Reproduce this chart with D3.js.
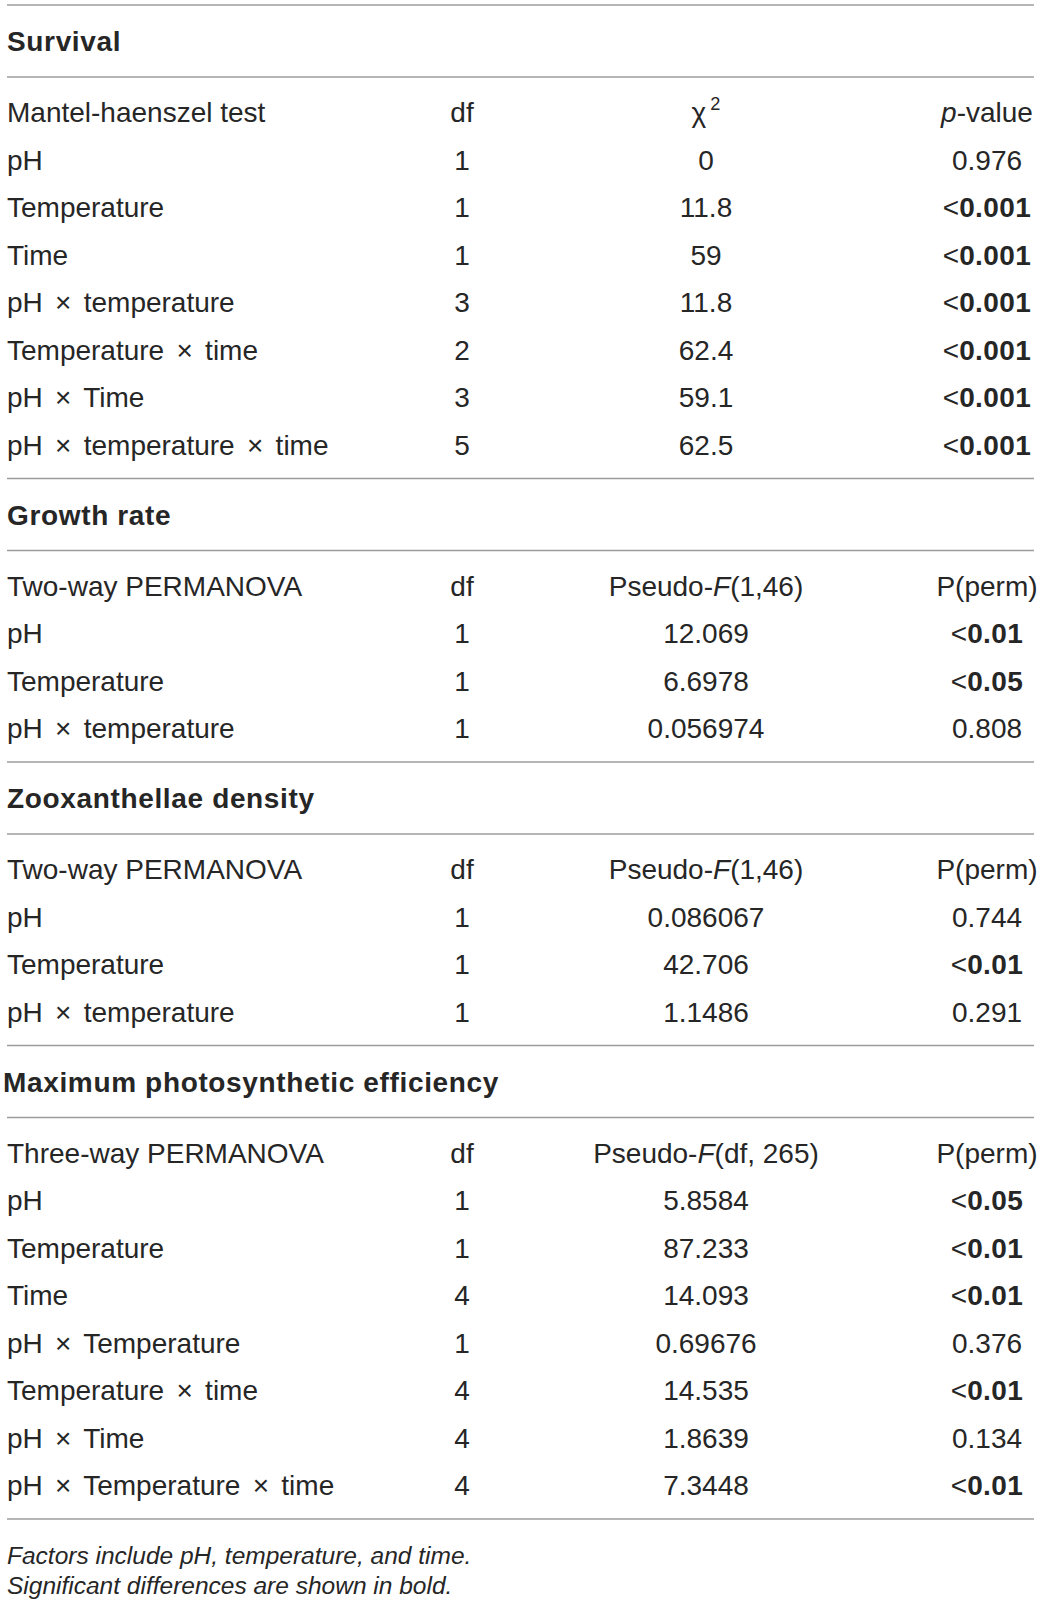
<!DOCTYPE html>
<html>
<head>
<meta charset="utf-8">
<style>
    body { margin: 0; background-color: #FFF; }
    text { font-family: "Liberation Sans", Arial, Helvetica, sans-serif; fill: #262626; }
</style>
</head>
<body>
<div id="chartArea"></div>
<script src="https://cdnjs.cloudflare.com/ajax/libs/d3/7.8.5/d3.min.js"></script>
<script>
    /* -----------------------------------
        data
    ----------------------------------- */
    var sectionTitles = ["Survival", "Growth rate", "Zooxanthellae density", "Maximum photosynthetic efficiency"];

    // header cells: [text, style] segments
    var survivalHeader = [[["Mantel-haenszel test"]], [["df"]], [["χ"], ["2", "sup"]], [["p", "i"], ["-value"]]];
    var survivalLabels = ["pH", "Temperature", "Time", "pH × temperature", "Temperature × time", "pH × Time", "pH × temperature × time"];
    var survivalDf = ["1", "1", "1", "3", "2", "3", "5"];
    var survivalChi = ["0", "11.8", "59", "11.8", "62.4", "59.1", "62.5"];
    var survivalP = ["0.976", "<0.001", "<0.001", "<0.001", "<0.001", "<0.001", "<0.001"];

    var growthHeader = [[["Two-way PERMANOVA"]], [["df"]], [["Pseudo-"], ["F", "i"], ["(1,46)"]], [["P(perm)"]]];
    var growthLabels = ["pH", "Temperature", "pH × temperature"];
    var growthDf = ["1", "1", "1"];
    var growthF = ["12.069", "6.6978", "0.056974"];
    var growthP = ["<0.01", "<0.05", "0.808"];

    var zooxHeader = [[["Two-way PERMANOVA"]], [["df"]], [["Pseudo-"], ["F", "i"], ["(1,46)"]], [["P(perm)"]]];
    var zooxLabels = ["pH", "Temperature", "pH × temperature"];
    var zooxDf = ["1", "1", "1"];
    var zooxF = ["0.086067", "42.706", "1.1486"];
    var zooxP = ["0.744", "<0.01", "0.291"];

    var photoHeader = [[["Three-way PERMANOVA"]], [["df"]], [["Pseudo-"], ["F", "i"], ["(df, 265)"]], [["P(perm)"]]];
    var photoLabels = ["pH", "Temperature", "Time", "pH × Temperature", "Temperature × time", "pH × Time", "pH × Temperature × time"];
    var photoDf = ["1", "1", "4", "1", "4", "4", "4"];
    var photoF = ["5.8584", "87.233", "14.093", "0.69676", "14.535", "1.8639", "7.3448"];
    var photoP = ["<0.05", "<0.01", "<0.01", "0.376", "<0.01", "0.134", "<0.01"];

    var footnotes = ["Factors include pH, temperature, and time.", "Significant differences are shown in bold."];

    var sections = [
        {title: sectionTitles[0], header: survivalHeader, cols: [survivalLabels, survivalDf, survivalChi, survivalP]},
        {title: sectionTitles[1], header: growthHeader, cols: [growthLabels, growthDf, growthF, growthP]},
        {title: sectionTitles[2], header: zooxHeader, cols: [zooxLabels, zooxDf, zooxF, zooxP]},
        {title: sectionTitles[3], header: photoHeader, cols: [photoLabels, photoDf, photoF, photoP]}
    ];

    /* -----------------------------------
        initialize
    ----------------------------------- */
    var width = 1041, height = 1607;
    var fontSize = 28, rowStep = 47.5;

    var svg = d3.select("#chartArea").append("svg")
        .attr("width", width)
        .attr("height", height)
        .attr("viewBox", "0 0 " + width + " " + height);

    // column x positions and anchors
    var colX = [7, 462, 706, 987];
    var colAnchor = ["start", "middle", "middle", "middle"];

    var rule = function(y) {
        svg.append("line")
            .attr("x1", 7).attr("x2", 1034)
            .attr("y1", y).attr("y2", y)
            .attr("stroke", "#9c9c9c")
            .attr("stroke-width", 1.3);
    };

    // text baseline from visual centre
    var base = function(c) { return c + fontSize * 0.36; };

    /* -----------------------------------
        draw sections
    ----------------------------------- */
    var curY = 5;
    rule(curY);

    sections.forEach(function(sec, si) {
        var titleY = curY + 36;
        svg.append("text")
            .attr("x", si === 3 ? 3 : 7)
            .attr("y", base(titleY))
            .attr("font-size", fontSize)
            .attr("font-weight", "bold")
            .attr("letter-spacing", 0.65)
            .text(sec.title);

        var line2 = curY + 72;
        rule(line2);

        var headerY = line2 + 35;
        var n = sec.cols[0].length;
        var y = d3.scaleLinear().domain([0, 1]).range([headerY, headerY + rowStep]);

        // header
        sec.header.forEach(function(cell, ci) {
            var t = svg.append("text")
                .attr("x", colX[ci])
                .attr("y", base(y(0)))
                .attr("font-size", fontSize)
                .attr("text-anchor", colAnchor[ci]);
            cell.forEach(function(seg) {
                var ts = t.append("tspan").text(seg[0]);
                if (seg[1] === "i") ts.attr("font-style", "italic");
                if (seg[1] === "sup") ts.attr("font-size", fontSize * 0.65).attr("dy", -12).attr("dx", 4);
            });
        });

        // body rows
        sec.cols.forEach(function(col, ci) {
            svg.selectAll(null)
                .data(col)
                .enter()
                .append("text")
                .attr("x", colX[ci])
                .attr("y", function(d, i) { return base(y(i + 1)); })
                .attr("font-size", fontSize)
                .attr("text-anchor", colAnchor[ci])
                .each(function(d) {
                    var t = d3.select(this);
                    if (d.charAt(0) === "<") {
                        t.append("tspan").text("<");
                        t.append("tspan").attr("font-weight", "bold").attr("letter-spacing", 0.4).text(d.slice(1));
                    } else if (d.indexOf(" × ") > -1) {
                        d.split(" × ").forEach(function(part, k) {
                            if (k > 0) {
                                t.append("tspan").attr("dx", 4.5).text(" ×");
                                t.append("tspan").attr("dx", 4.5).text(" " + part);
                            } else {
                                t.append("tspan").text(part);
                            }
                        });
                    } else {
                        t.text(d);
                    }
                });
        });

        curY = y(n) + 34;
        rule(curY);
    });

    /* -----------------------------------
        footnotes
    ----------------------------------- */
    svg.selectAll(".foot")
        .data(footnotes)
        .enter()
        .append("text")
        .attr("class", "foot")
        .attr("x", 7)
        .attr("y", function(d, i) { return curY + 36 + i * 30 + 9; })
        .attr("font-size", 24.5)
        .attr("font-style", "italic")
        .text(function(d) { return d; });
</script>
</body>
</html>
